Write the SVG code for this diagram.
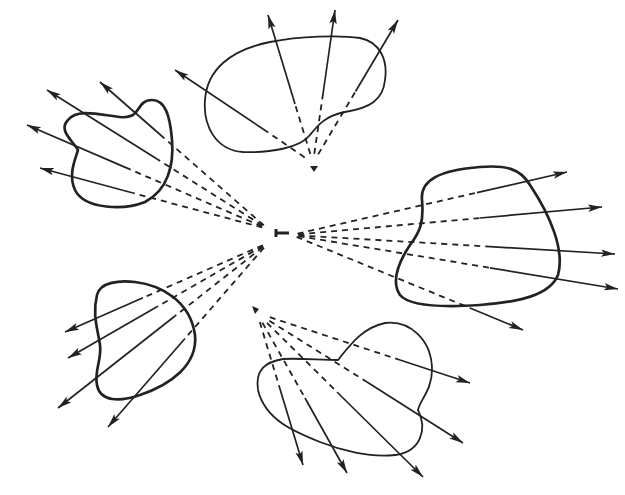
<svg xmlns="http://www.w3.org/2000/svg" width="625" height="495" viewBox="0 0 625 495">
<defs>
<marker id="ah" markerUnits="userSpaceOnUse" markerWidth="15" markerHeight="9" refX="14" refY="4.5" orient="auto">
<path d="M0,0.8 L14,4.5 L0,8.2 L3,4.5 z" fill="#222"/>
</marker>
<style>
.thick{fill:none;stroke:#222;stroke-width:2.7;stroke-linejoin:round}
.thin{fill:none;stroke:#222;stroke-width:1.8;stroke-linejoin:round}
.ray{stroke:#222;stroke-width:1.7;fill:none;marker-end:url(#ah)}
.dash{stroke:#222;stroke-width:1.8;fill:none;stroke-dasharray:6 5}
.src{fill:#222;stroke:none}
</style>
</defs>
<rect width="625" height="495" fill="#fff"/>
<g id="blob-top">
<path class="thin" d="M243,152 C215,150 203,125 205,100 C207,70 230,50 270,42 C300,36 340,35 360,38 C380,42 388,60 385,80 C383,100 370,108 345,112 C325,116 318,125 310,135 C300,148 270,153 243,152 Z"/>
</g>
<g id="blob-left">
<path class="thick" d="M133,115 C140,110 140,100 152,100 C165,100 170,115 172,140 C174,165 168,190 145,202 C125,210 85,210 75,190 C68,175 75,160 78,150 C72,140 58,130 68,120 C78,108 100,115 120,117 C128,118 131,116 133,115 Z"/>
</g>
<g id="blob-lowerleft">
<path class="thick" d="M97,295 C100,282 120,280 135,282 C160,285 190,300 195,335 C198,365 170,385 140,395 C120,402 100,402 97,385 C94,370 102,360 100,345 C98,330 92,315 97,295 Z"/>
</g>
<g id="blob-right">
<path class="thick" d="M422,200 C420,180 440,170 480,167 C505,165 520,168 530,185 C550,215 565,250 558,275 C550,295 520,302 480,305 C450,307 410,307 400,295 C390,280 400,260 410,245 C420,232 424,222 422,200 Z"/>
</g>
<g id="blob-bottom">
<path class="thin" d="M338,360 C350,345 362,328 385,323 C410,320 432,340 432,370 C432,390 420,400 418,410 C428,430 420,452 395,455 C370,458 340,450 320,442 C295,432 265,420 258,390 C255,370 265,362 283,359 C300,358 320,360 338,360 Z"/>
</g>
<g id="sources">
<path d="M276,229 L276,237 M276,233 L289,233" stroke="#222" stroke-width="3" fill="none"/>
<polygon class="src" points="310,166 318,166 314,172"/>
<polygon class="src" points="252,306 259,309 255,314"/>
</g>
<g id="connectors">
<line class="dash" x1="263.8" y1="225.3" x2="160" y2="134.5"/><line class="ray" x1="160" y1="134.5" x2="100" y2="82"/>
<line class="dash" x1="262.5" y1="225.5" x2="157" y2="159"/><line class="ray" x1="157" y1="159" x2="47" y2="90"/>
<line class="dash" x1="262" y1="226.4" x2="130" y2="169.4"/><line class="ray" x1="130" y1="169.4" x2="27" y2="125"/>
<line class="dash" x1="262.3" y1="227.5" x2="133" y2="193"/><line class="ray" x1="133" y1="193" x2="40" y2="168"/>

<line class="dash" x1="262.9" y1="245.2" x2="143" y2="297.8"/><line class="ray" x1="143" y1="297.8" x2="65" y2="332"/>
<line class="dash" x1="263" y1="245.9" x2="157" y2="306.8"/><line class="ray" x1="157" y1="306.8" x2="68" y2="358"/>
<line class="dash" x1="262.8" y1="247.1" x2="175" y2="316"/><line class="ray" x1="175" y1="316" x2="58" y2="408"/>
<line class="dash" x1="264" y1="247.6" x2="185" y2="338.5"/><line class="ray" x1="185" y1="338.5" x2="108" y2="427"/>

<line class="dash" x1="297.5" y1="233.7" x2="477" y2="192.6"/><line class="ray" x1="477" y1="192.6" x2="567" y2="172"/>
<line class="dash" x1="298.2" y1="234.4" x2="480" y2="218"/><line class="ray" x1="480" y1="218" x2="602" y2="207"/>
<line class="dash" x1="298.5" y1="235.4" x2="490" y2="246.6"/><line class="ray" x1="490" y1="246.6" x2="615" y2="254"/>
<line class="dash" x1="298.5" y1="236.1" x2="490" y2="267.8"/><line class="ray" x1="490" y1="267.8" x2="618" y2="289"/>
<line class="dash" x1="296.6" y1="236.9" x2="470" y2="308"/><line class="ray" x1="470" y1="308" x2="523" y2="330"/>

<line class="dash" x1="304.7" y1="157.4" x2="267.5" y2="132"/><line class="ray" x1="267.5" y1="132" x2="175" y2="70"/>
<line class="dash" x1="310.3" y1="154.1" x2="295" y2="104"/><line class="ray" x1="295" y1="104" x2="268" y2="15"/>
<line class="dash" x1="314.3" y1="153.8" x2="323" y2="94"/><line class="ray" x1="323" y1="94" x2="335" y2="10"/>
<line class="dash" x1="318.1" y1="154.4" x2="355.5" y2="91.5"/><line class="ray" x1="355.5" y1="91.5" x2="398" y2="20"/>

<line class="dash" x1="269.8" y1="317.2" x2="400" y2="360"/><line class="ray" x1="400" y1="360" x2="470" y2="383"/>
<line class="dash" x1="269.4" y1="320.8" x2="367" y2="382"/><line class="ray" x1="367" y1="382" x2="463" y2="443"/>
<line class="dash" x1="267" y1="322.8" x2="337" y2="392"/><line class="ray" x1="337" y1="392" x2="423" y2="477"/>
<line class="dash" x1="262.4" y1="322.6" x2="305" y2="398"/><line class="ray" x1="305" y1="398" x2="347" y2="473"/>
<line class="dash" x1="259.8" y1="322.1" x2="279.4" y2="387"/><line class="ray" x1="279.4" y1="387" x2="303" y2="465"/>
</g>
</svg>
